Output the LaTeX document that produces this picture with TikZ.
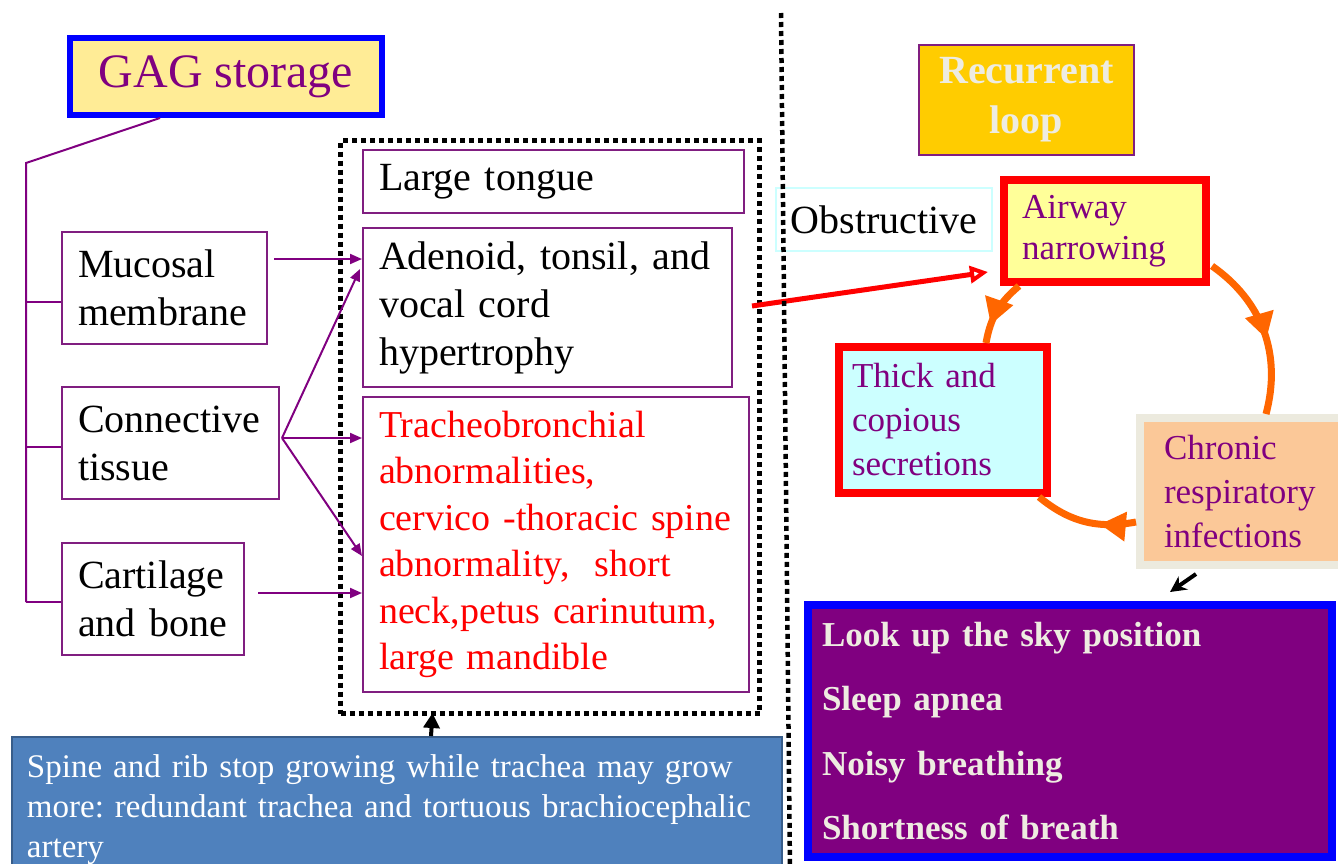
\documentclass[tikz,border=0pt]{standalone}
\usepackage{fontspec}
\setmainfont{Liberation Serif}
\usetikzlibrary{arrows.meta,decorations.markings,calc}
\hyphenpenalty=10000
\exhyphenpenalty=10000
\frenchspacing
\definecolor{gpur}{RGB}{128,0,128}
\definecolor{lpur}{RGB}{128,30,128}
\definecolor{gagfill}{RGB}{255,236,150}
\definecolor{airfill}{RGB}{255,255,153}
\definecolor{thkfill}{RGB}{204,255,255}
\definecolor{chrfill}{RGB}{251,200,152}
\definecolor{chrline}{RGB}{236,234,222}
\definecolor{recfill}{RGB}{255,204,0}
\definecolor{beige}{RGB}{238,236,225}
\definecolor{orng}{RGB}{255,102,0}
\definecolor{bluefill}{RGB}{79,129,189}
\definecolor{blueline}{RGB}{56,93,138}
\definecolor{obsline}{RGB}{204,255,255}
\begin{document}
\begin{tikzpicture}[x=1pt,y=-1pt,
  box/.style={draw=lpur, line width=2pt, anchor=north west, inner xsep=16pt, inner ysep=0pt, align=left, font=\fontsize{40}{48}\selectfont},
  pline/.style={draw=gpur, line width=2pt},
  parr/.style={pline, -{Triangle[length=12pt,width=10pt]}},
  oarc/.style={draw=orng, line width=7pt, postaction={decorate}},
  dotline/.style={draw=black, line width=5pt, dash pattern=on 5pt off 4pt}
]
\useasboundingbox (0,0) rectangle (1338,863);

% GAG storage
\node[box, draw=blue, line width=6pt, fill=gagfill, text=gpur, align=center,
  minimum width=312pt, minimum height=77pt, font=\fontsize{48}{56}\selectfont] (gag) at (67,35) {GAG storage};

% left boxes
\node[box, minimum width=205pt, minimum height=112pt, text width=173pt] (muc) at (61,231) {Mucosal\\membrane};
\node[box, minimum width=217pt, minimum height=112pt, text width=185pt] (con) at (61,386) {Connective\\tissue};
\node[box, minimum width=181pt, minimum height=112pt, text width=150pt] (car) at (61,542) {Cartilage\\and bone};

% dotted group box
\node[dotline, anchor=north west, minimum width=419pt, minimum height=573pt, inner sep=0pt] (dot) at (338,138) {};

% middle boxes
\node[box, minimum width=381pt, minimum height=63pt, text width=349pt] (lt) at (362,149) {Large tongue};
\node[box, minimum width=369pt, minimum height=159pt, text width=337pt] (ade) at (362,227) {Adenoid, tonsil, and\\vocal cord\\hypertrophy};
\node[box, minimum width=386pt, minimum height=295pt, text width=354pt, text=red, font=\fontsize{38}{46.4}\selectfont] (tra) at (362,396)
  {Tracheobronchial\\abnormalities,\\cervico -thoracic  spine\\abnormality,~~short\\neck,petus carinutum,\\large mandible};

% GAG connector tree
\coordinate (c1) at (26,163);
\coordinate (b1) at (26,302);
\coordinate (b2) at (26,447);
\coordinate (b3) at (26,602);
\draw[pline] ([xshift=-66pt]gag.south) -- (c1) -- (b3);
\draw[pline] (b1) -- (b1 -| muc.west);
\draw[pline] (b2) -- (b2 -| con.west);
\draw[pline] (b3) -- (b3 -| car.west);

% purple arrows
\draw[parr] ([xshift=6pt,yshift=29pt]muc.east) -- ([yshift=48.5pt]ade.west);
\coordinate (cc) at ([xshift=2pt,yshift=5pt]con.east);
\draw[parr] (cc) -- ([xshift=-2pt,yshift=38.5pt]ade.west);
\draw[parr] (cc) -- ([yshift=106.5pt]tra.west);
\draw[parr] (cc) -- ([yshift=-11.5pt]tra.west);
\draw[parr] ([xshift=13pt,yshift=6pt]car.east) -- ([yshift=-48.5pt]tra.west);

% bottom-left blue box
\node[box, draw=blueline, fill=bluefill, text=white, minimum width=770pt, minimum height=146pt, text width=740pt,
  inner xsep=15pt, font=\fontsize{33}{40}\selectfont] (blu) at (11,736)
  {Spine and rib stop growing while trachea may grow\\more: redundant trachea and tortuous brachiocephalic\\artery};
\draw[draw=black, line width=4pt, -{Triangle[length=15pt,width=16pt]}] ([xshift=34pt]blu.north) -- ([xshift=-117.5pt,yshift=3pt]dot.south);

% right side
\node[box, draw=lpur, fill=recfill, text=beige, align=center, minimum width=215pt, minimum height=110pt,
  font=\fontsize{40}{50}\bfseries\selectfont] (rec) at (918,44) {Recurrent\\loop};
\node[box, draw=obsline, align=center, minimum width=216pt, minimum height=63pt, inner xsep=4pt] (obs) at (775,187) {Obstructive};
\node[box, draw=red, line width=8pt, fill=airfill, text=gpur, inner xsep=18pt, minimum width=202pt, minimum height=102pt, text width=166pt,
  font=\fontsize{35}{41}\selectfont] (air) at (1000,176) {Airway\\narrowing};
\node[box, draw=red, line width=8pt, fill=thkfill, text=gpur, inner xsep=13pt, minimum width=208pt, minimum height=146pt, text width=182pt,
  font=\fontsize{35}{44}\selectfont] (thk) at (835,343) {Thick and\\copious\\secretions};
\node[box, draw=chrline, line width=8pt, fill=chrfill, text=gpur, inner xsep=24pt, minimum width=214pt, minimum height=147pt, text width=166pt,
  font=\fontsize{35}{44}\selectfont] (chr) at (1136,414) {Chronic\\respiratory\\infections};
\node[box, draw=blue, line width=8pt, fill=gpur, text=beige, inner xsep=14pt, minimum width=524pt, minimum height=252pt, text width=496pt,
  font=\fontsize{35}{64.5}\bfseries\selectfont] (sym) at (804,601)
  {Look up the sky position\\Sleep apnea\\Noisy breathing\\Shortness of breath};

% red arrow
\draw[draw=red, line width=5pt, -{Triangle[open,length=18pt,width=17pt,line width=4pt]}]
  ([xshift=19pt,yshift=1.5pt]ade.east) -- ([xshift=-12pt,yshift=-41pt]air.west);

% orange loop
\draw[oarc, decoration={markings, mark=at position 0.72 with {\arrow[orng]{Triangle[length=26pt,width=28pt]}}}]
  ([xshift=-86pt]air.south) to[bend right=20] ([xshift=43pt]thk.north);
\draw[oarc, decoration={markings, mark=at position 0.55 with {\arrow[orng]{Triangle[length=26pt,width=28pt]}}}]
  ([xshift=2pt,yshift=-35pt]air.east) to[bend left=35] ([xshift=19pt]chr.north);
\draw[oarc, decoration={markings, mark=at position 0.35 with {\arrow[orng]{Triangle[length=26pt,width=28pt]}}}]
  ([yshift=-30.5pt]chr.west) to[bend left=25] ([xshift=96pt]thk.south);

% black small arrow
\draw[draw=black, line width=4pt, -{Stealth[length=16pt,width=16pt]}]
  ([xshift=-51pt,yshift=-5pt]chr.south) -- ([xshift=100pt,yshift=9pt]sym.north);

% vertical separator
\coordinate (s1) at (781,13);
\coordinate (s2) at (790,870);
\draw[dotline, line width=4.5pt] (s1) -- (s2);
\end{tikzpicture}
\end{document}
